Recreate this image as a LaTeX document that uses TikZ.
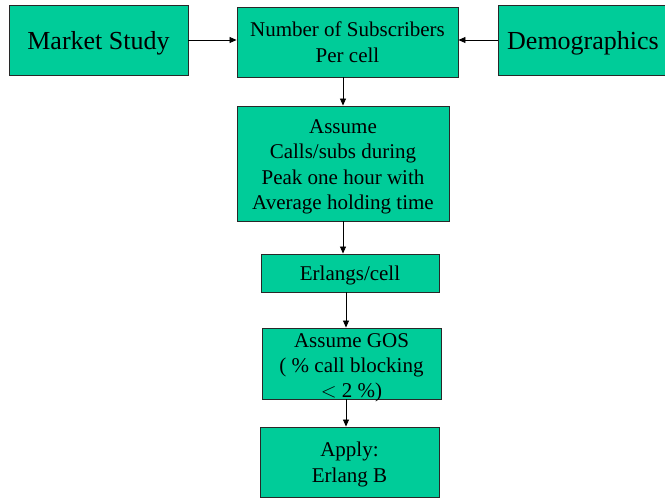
\documentclass[tikz,border=0pt]{standalone}
\usepackage{fontspec}
\setmainfont{Liberation Serif}
\usepackage{tikz}
\usetikzlibrary{arrows.meta, positioning}
\usepackage{xcolor}
\definecolor{boxgreen}{RGB}{0,204,153}
\definecolor{boxedge}{RGB}{40,40,40}

\begin{document}
\begin{tikzpicture}[
  x=1pt, y=-1pt,
  block/.style={rectangle, draw=boxedge, fill=boxgreen, line width=0.9pt,
    inner sep=0pt, align=center, text depth=0pt, font=\fontsize{21}{25.5}\selectfont},
  bigblock/.style={block, font=\fontsize{26}{30}\selectfont},
  arrow/.style={-{Triangle[length=7pt, width=6pt]}, line width=0.8pt, black}
]
\useasboundingbox (0,0) rectangle (665,498);

% Top row
\node[bigblock, minimum width=179pt, minimum height=70pt] (market) at (98.5,40) {Market Study};
\node[block, minimum width=221pt, minimum height=70pt] (subs) at (347.5,42) {Number of Subscribers\\Per cell};
\node[bigblock, minimum width=170pt, minimum height=70pt] (demo) at (583,40) {Demographics};

% Traffic chain (text sits a little low in the boxes)
\node[block, minimum width=212pt, minimum height=115pt, text height=92.2pt]
  (assume) at (343,163.5)
  {Assume\\Calls/subs during\\Peak one hour with\\Average holding time};
\node[block, minimum width=178pt, minimum height=38pt] (erlang) at (350,273) {Erlangs/cell};
\node[block, minimum width=179pt, minimum height=71pt, text height=67.6pt,
  font=\fontsize{21}{25}\selectfont]
  (gos) at (351.5,363.5)
  {Assume GOS\\( \% call blocking\\$<$ 2 \%)};
\node[block, minimum width=179pt, minimum height=70pt, text height=40.2pt]
  (apply) at (349.5,462) {Apply:\\Erlang B};

% Arrows
\draw[arrow] (market.east) -- (market.east -| subs.west);
\draw[arrow] (demo.west) -- (demo.west -| subs.east);
\draw[arrow] (subs.south -| assume.north) -- (assume.north);
\draw[arrow] (assume.south) -- (assume.south |- erlang.north);
\draw[arrow] ([xshift=-4pt]erlang.south) -- ([xshift=-4pt]erlang.south |- gos.north);
\draw[arrow] ([xshift=-5.5pt]gos.south) -- ([xshift=-5.5pt]gos.south |- apply.north);
\end{tikzpicture}
\end{document}
